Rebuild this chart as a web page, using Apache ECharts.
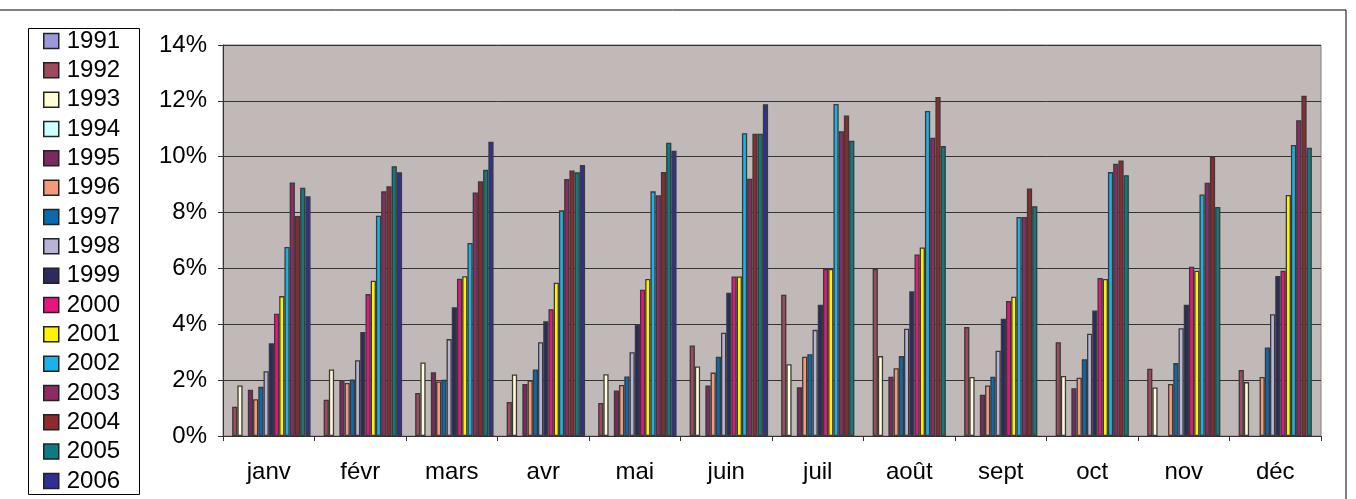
<!DOCTYPE html>
<html>
<head>
<meta charset="utf-8">
<script src="https://cdn.jsdelivr.net/npm/echarts@6/dist/echarts.min.js"></script>
<style>
html,body{margin:0;padding:0;background:#fff;}
#chart{width:1356px;height:499px;}
</style>
</head>
<body>
<div id="chart"></div>
<script>
const months = ['janv','févr','mars','avr','mai','juin','juil','août','sept','oct','nov','déc'];
const years = ['1991','1992','1993','1994','1995','1996','1997','1998','1999','2000','2001','2002','2003','2004','2005','2006'];
const yTicks = [0,2,4,6,8,10,12,14];

const v1991 = [null,null,null,null,null,null,null,null,null,null,null,null];
const v1992 = [1.05,1.30,1.54,1.22,1.18,3.24,5.06,5.98,3.90,3.36,2.41,2.36];
const v1993 = [1.81,2.38,2.63,2.20,2.21,2.49,2.57,2.86,2.11,2.15,1.74,1.93];
const v1994 = [null,null,null,null,null,null,null,null,null,null,null,null];
const v1995 = [1.66,2.00,2.28,1.86,1.63,1.81,1.75,2.12,1.48,1.71,null,null];
const v1996 = [1.32,1.90,1.95,1.99,1.83,2.27,2.84,2.43,1.81,2.09,1.86,2.11];
const v1997 = [1.76,2.02,2.01,2.38,2.13,2.84,2.93,2.86,2.12,2.75,2.61,3.17];
const v1998 = [2.32,2.71,3.47,3.36,3.00,3.70,3.80,3.84,3.05,3.66,3.86,4.36];
const v1999 = [3.32,3.72,4.61,4.11,3.99,5.13,4.70,5.18,4.20,4.49,4.70,5.73];
const v2000 = [4.38,5.08,5.63,4.54,5.24,5.71,5.98,6.50,4.83,5.66,6.06,5.92];
const v2001 = [5.01,5.56,5.72,5.49,5.62,5.71,5.98,6.75,4.99,5.62,5.92,8.63];
const v2002 = [6.77,7.89,6.91,8.08,8.76,10.84,11.89,11.64,7.84,9.45,8.65,10.42];
const v2003 = [9.08,8.76,8.72,9.20,8.62,9.21,10.91,10.68,7.84,9.75,9.07,11.31];
const v2004 = [7.88,8.94,9.12,9.51,9.45,10.82,11.48,12.14,8.86,9.86,10.02,12.18];
const v2005 = [8.89,9.66,9.53,9.44,10.50,10.82,10.57,10.38,8.23,9.34,8.20,10.32];
const v2006 = [8.58,9.44,10.54,9.70,10.21,11.88,null,null,null,null,null,null];

const seriesValues = [v1991,v1992,v1993,v1994,v1995,v1996,v1997,v1998,v1999,v2000,v2001,v2002,v2003,v2004,v2005,v2006];

const colors = ['#9C98DC','#9E4A5C','#FFFCD6','#CCFFFF','#7A2A5E','#F29A7A','#0A6AAE','#B8B4D8','#2B2B5E','#E6157F','#FFF200','#1AB2E8','#8E2A64','#8E2A2E','#0F7A80','#2E3192'];

const FONT = "'Liberation Sans', Arial, sans-serif";

const chart = echarts.init(document.getElementById('chart'), null, {renderer:'canvas'});
chart.setOption({
  animation: false,
  backgroundColor: '#ffffff',
  textStyle: {fontFamily: FONT},
  graphic: [{
    type: 'rect',
    shape: {x: -2, y: 10, width: 1348, height: 520},
    style: {fill: 'none', stroke: '#000', lineWidth: 1},
    silent: true, z: 0
  }, {
    type: 'rect',
    shape: {x: 28.5, y: 28.5, width: 111, height: 466},
    style: {fill: '#fff', stroke: '#000', lineWidth: 1},
    silent: true, z: 0
  }],
  legend: {
    orient: 'vertical',
    left: 43,
    top: 29,
    height: 470,
    padding: 0,
    itemWidth: 15,
    itemHeight: 15,
    itemGap: 5.33,
    icon: 'rect',
    itemStyle: {borderColor: '#222', borderWidth: 1.5},
    textStyle: {fontSize: 24, color: '#000', fontFamily: FONT, padding: [0,0,0,3]},
    data: years
  },
  grid: {
    left: 223, right: 35, top: 45, bottom: 63,
    show: true,
    backgroundColor: '#C0B9B8',
    borderColor: '#808080',
    borderWidth: 1
  },
  xAxis: {
    type: 'category',
    data: months,
    axisLine: {show: true, lineStyle: {color: '#333', width: 1}},
    axisTick: {show: true, length: 5, lineStyle: {color: '#333'}},
    axisLabel: {fontSize: 24, color: '#000', margin: 24, fontFamily: FONT},
    splitLine: {show: false}
  },
  yAxis: {
    type: 'value',
    min: yTicks[0], max: yTicks[yTicks.length-1], interval: 2,
    axisLine: {show: true, lineStyle: {color: '#333', width: 1}},
    axisTick: {show: true, length: 5, lineStyle: {color: '#333'}},
    axisLabel: {fontSize: 24, color: '#000', margin: 16, formatter: '{value}%', fontFamily: FONT},
    splitLine: {show: true, lineStyle: {color: '#333', width: 1}}
  },
  series: years.map((y, i) => ({
    name: y,
    type: 'bar',
    data: seriesValues[i],
    barGap: '0%',
    barCategoryGap: '8.57%',
    itemStyle: {color: colors[i], borderColor: '#3a3a3a', borderWidth: 1.3},
    emphasis: {disabled: true}
  }))
});
</script>
</body>
</html>
